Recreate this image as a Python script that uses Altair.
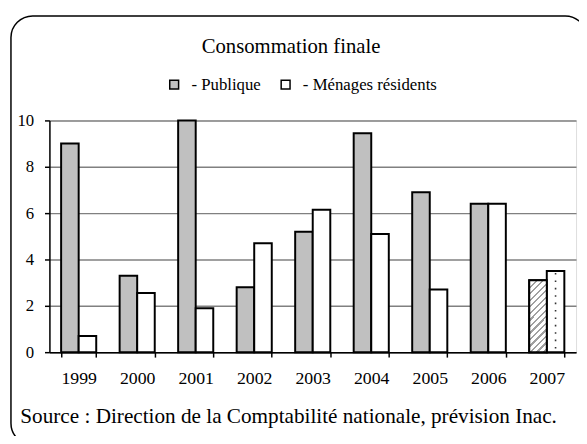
import altair as alt
import pandas as pd

# ---- data ----
years = ["1999", "2000", "2001", "2002", "2003", "2004", "2005", "2006", "2007"]
publique = [9.0, 3.3, 10.0, 2.8, 5.2, 9.45, 6.9, 6.4, 3.1]
menages = [0.7, 2.55, 1.9, 4.7, 6.15, 5.1, 2.7, 6.4, 3.5]
series = ["Publique", "Ménages résidents"]
colors = ["#c0c0c0", "#ffffff"]
forecast_year = "2007"
y_ticks = [0, 2, 4, 6, 8, 10]
title_text = "Consommation finale"
source_text = "Source : Direction de la Comptabilité nationale, prévision Inac."

rows = []
for yr, p, m in zip(years, publique, menages):
    rows.append({"annee": yr, "serie": series[0], "valeur": p})
    rows.append({"annee": yr, "serie": series[1], "valeur": m})
df = pd.DataFrame(rows)

FONT = "Liberation Serif"
W, H = 534, 235

x_enc = alt.X(
    "annee:N", sort=years,
    scale=alt.Scale(paddingInner=0.4, paddingOuter=0.2),
    axis=alt.Axis(
        title=source_text, labelAngle=0, tickBand="extent", tickSize=5,
        tickColor="black", tickWidth=1.5, domainColor="black", domainWidth=1.5,
        labelFont=FONT, labelFontSize=18, labelColor="black", labelPadding=13,
        titleFont=FONT, titleFontSize=21.5, titleFontWeight="normal", titleColor="black",
        titleX=-30, titleY=71, titleAlign="left", titleBaseline="alphabetic",
        titleAnchor="start", grid=False,
    ),
)
x_off = alt.XOffset("serie:N", sort=series,
                    scale=alt.Scale(domain=series, paddingInner=0, paddingOuter=0))
y_enc = alt.Y(
    "valeur:Q",
    scale=alt.Scale(domain=[0, 10], nice=False),
    axis=alt.Axis(
        values=y_ticks, title=None, tickSize=5, tickColor="black", tickWidth=1.5,
        domainColor="black", domainWidth=1.5, labelFont=FONT, labelFontSize=17,
        labelColor="black", labelPadding=11, grid=True, gridColor="#808080",
        gridWidth=1.5,
    ),
)

base = alt.Chart(df)

bars = base.mark_bar(stroke="black", strokeWidth=2).encode(
    x=x_enc, xOffset=x_off, y=y_enc,
    color=alt.Color(
        "serie:N", sort=series,
        scale=alt.Scale(domain=series, range=colors),
        legend=alt.Legend(
            orient="none", legendX=118, legendY=-45, direction="horizontal",
            title=None, symbolType="square", symbolSize=81,
            symbolStrokeColor="black", symbolStrokeWidth=1.5,
            labelFont=FONT, labelFontSize=17, labelColor="black",
            labelExpr="'- ' + datum.label", columnPadding=16, labelOffset=9,
        ),
    ),
)

N = 14
stops = []
for i in range(N):
    a = i / N
    b = (i + 0.35) / N
    stops += [
        alt.GradientStop(offset=a, color="#a0a0a0"),
        alt.GradientStop(offset=b, color="#a0a0a0"),
        alt.GradientStop(offset=b, color="#ffffff"),
        alt.GradientStop(offset=(i + 1) / N, color="#ffffff"),
    ]
hatch = alt.LinearGradient(gradient="linear", x1=0, y1=0, x2=0.295, y2=1.2, stops=stops)

hatched = base.mark_bar(stroke="black", strokeWidth=2, fill=hatch).encode(
    x=alt.X("annee:N", sort=years), xOffset=alt.XOffset("serie:N", sort=series), y="valeur:Q"
).transform_filter(
    (alt.datum.annee == forecast_year) & (alt.datum.serie == series[0])
)

dots_c = base.mark_rule(color="#333333", strokeWidth=1.6, strokeDash=[1.6, 13.4],
                        strokeDashOffset=-2).encode(
    x=alt.X("annee:N", sort=years), xOffset=alt.XOffset("serie:N", sort=series),
    y="valeur:Q", y2=alt.datum(0)
).transform_filter(
    (alt.datum.annee == forecast_year) & (alt.datum.serie == series[1])
)
dots_l = base.mark_rule(color="#333333", strokeWidth=1.6, strokeDash=[1.6, 13.4],
                        strokeDashOffset=-9.5, xOffset=-7.5).encode(
    x=alt.X("annee:N", sort=years), xOffset=alt.XOffset("serie:N", sort=series),
    y="valeur:Q", y2=alt.datum(0)
).transform_filter(
    (alt.datum.annee == forecast_year) & (alt.datum.serie == series[1])
)

frame = alt.Chart(pd.DataFrame({"k": [0]})).mark_rect(
    filled=False, stroke="black", strokeWidth=1.5, cornerRadius=22
).encode(x=alt.value(-39), x2=alt.value(545), y=alt.value(-106), y2=alt.value(329))

chart = alt.layer(frame, bars, hatched, dots_c, dots_l).properties(
    width=W, height=H,
    title=alt.TitleParams(
        text=title_text, font=FONT, fontSize=21, fontWeight="normal", color="black",
        anchor="middle", frame="group", dx=-22, baseline="alphabetic", offset=-59,
    ),
    autosize=alt.AutoSizeParams(type="none"),
    padding={"left": 42, "top": 111, "right": 3, "bottom": 82},
).configure_view(strokeWidth=0).configure(background="white")

chart.save("out.html", embed_options={"renderer": "svg", "actions": False})
